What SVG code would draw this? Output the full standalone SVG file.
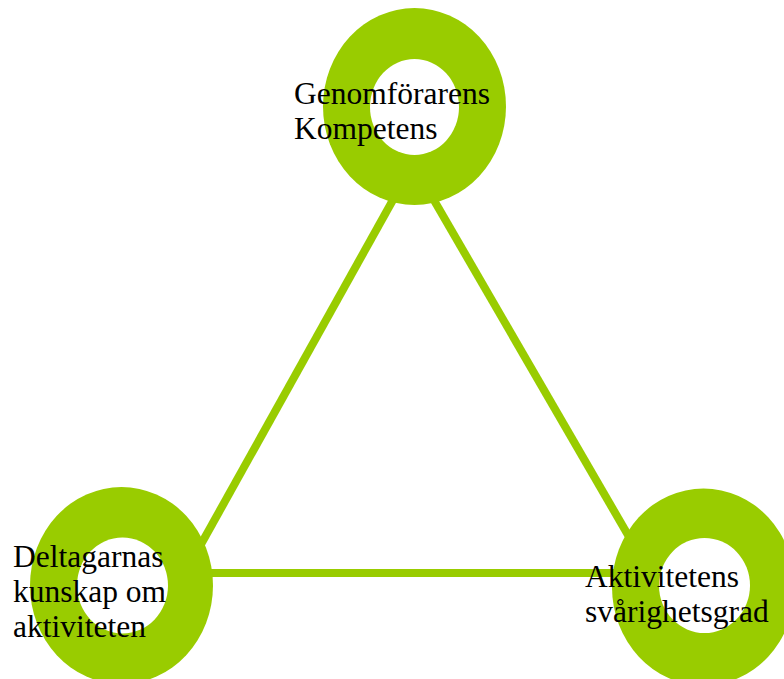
<svg xmlns="http://www.w3.org/2000/svg" width="784" height="679" viewBox="0 0 784 679">
<style>
.ring{fill:#99CC00}
.hole{fill:#FFFFFF}
.conn{stroke:#99CC00;stroke-width:8;fill:none;stroke-linecap:butt}
.lbl{font-family:"Liberation Serif","Times New Roman",serif;font-size:31.5px;fill:#000000}
</style>
<rect width="784" height="679" fill="#FFFFFF"/>
<g id="connectors">
<line class="conn" x1="413" y1="164" x2="185" y2="573"/>
<line class="conn" x1="413" y1="164" x2="650" y2="573"/>
<line class="conn" x1="185" y1="573" x2="650" y2="573"/>
</g>
<g id="node-top">
<ellipse class="ring" cx="414.5" cy="106.5" rx="91.5" ry="98.5"/>
<ellipse class="hole" cx="414.5" cy="107" rx="44.5" ry="48"/>
<text class="lbl" x="294" y="104">Genomförarens</text>
<text class="lbl" x="294" y="139">Kompetens</text>
</g>
<g id="node-left">
<ellipse class="ring" cx="121.5" cy="585.5" rx="91.5" ry="98.5"/>
<ellipse class="hole" cx="122.5" cy="585.5" rx="45.5" ry="48"/>
<text class="lbl" x="13" y="567">Deltagarnas</text>
<text class="lbl" x="13" y="602">kunskap om</text>
<text class="lbl" x="13" y="637">aktiviteten</text>
</g>
<g id="node-right">
<ellipse class="ring" cx="703.5" cy="587" rx="91.5" ry="98.5"/>
<ellipse class="hole" cx="704.5" cy="585.5" rx="45.5" ry="47.5"/>
<text class="lbl" x="585" y="587">Aktivitetens</text>
<text class="lbl" x="585" y="622">svårighetsgrad</text>
</g>
</svg>
